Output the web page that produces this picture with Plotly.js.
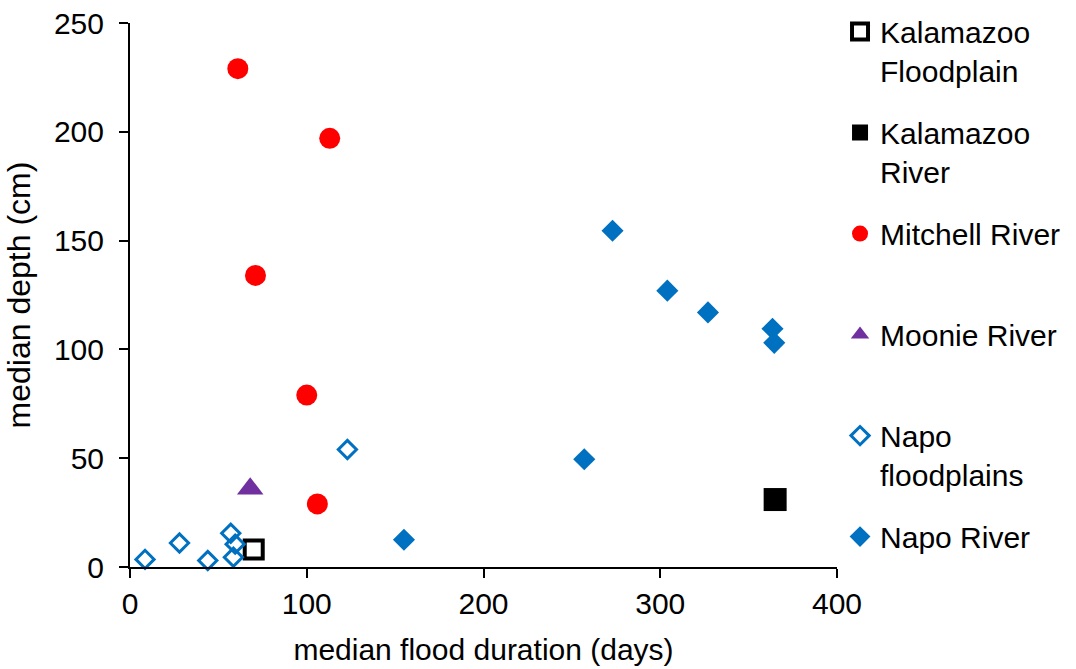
<!DOCTYPE html>
<html>
<head>
<meta charset="utf-8">
<script src="https://cdn.plot.ly/plotly-3.0.1.min.js"></script>
<style>
html,body{margin:0;padding:0;background:#fff;}
#chart{width:1076px;height:669px;}
</style>
</head>
<body>
<div id="chart"></div>
<script>
// Data (x: median flood duration, days; y: median depth, cm)
const kalFloodX = [70];
const kalFloodY = [8];
const kalRiverX = [365];
const kalRiverY = [31];
const mitchellX = [61, 113, 71, 100, 106];
const mitchellY = [229, 197, 134, 79, 29];
const moonieX = [68];
const moonieY = [36];
const napoFloodX = [8.5, 28, 44, 57, 59.5, 58.5, 123];
const napoFloodY = [3.5, 11, 3, 15.5, 10.5, 4.5, 54];
const napoRiverX = [273, 304, 327, 363.5, 364.5, 257, 155];
const napoRiverY = [154.5, 127, 117, 109.5, 103, 49.5, 12.5];

const seriesNames = ["Kalamazoo<br>Floodplain", "Kalamazoo<br>River", "Mitchell River<br>&nbsp;", "Moonie River<br>&nbsp;", "Napo<br>floodplains", "Napo River<br>&nbsp;"];
const xTickVals = [0, 100, 200, 300, 400];
const yTickVals = [0, 50, 100, 150, 200, 250];

const FONT = "Liberation Sans, Arial, sans-serif";
const FS = 30;

function tr(name, x, y, marker, group) {
  return {type: "scatter", mode: "markers", name: name, x: x, y: y,
          marker: marker, cliponaxis: false, legendgroup: group, hoverinfo: "x+y"};
}

const traces = [
  tr(seriesNames[0], kalFloodX, kalFloodY, {symbol: "square-open", size: 18, color: "#000000", line: {width: 4, color: "#000000"}}, "g1"),
  tr(seriesNames[1], kalRiverX, kalRiverY, {symbol: "square", size: 23, color: "#000000"}, "g2"),
  tr(seriesNames[2], mitchellX, mitchellY, {symbol: "circle", size: 21, color: "#FF0000"}, "g3"),
  tr(seriesNames[3], moonieX, moonieY, {symbol: "triangle-up", size: 23, color: "#7030A0"}, "g4"),
  tr(seriesNames[4], napoFloodX, napoFloodY, {symbol: "diamond-open", size: 14, color: "#0070C0", line: {width: 3, color: "#0070C0"}}, "g5"),
  tr(seriesNames[5], napoRiverX, napoRiverY, {symbol: "diamond", size: 17, color: "#0070C0"}, "g6")
];

const axisCommon = {
  showgrid: false, zeroline: false, showline: true, linecolor: "#000000", linewidth: 2,
  ticks: "outside", ticklen: 9, tickwidth: 2, tickcolor: "#000000",
  tickfont: {family: FONT, size: FS, color: "#000000"}
};

const layout = {
  width: 1076, height: 669,
  paper_bgcolor: "#ffffff", plot_bgcolor: "#ffffff",
  margin: {l: 130, r: 239, t: 23, b: 102},
  font: {family: FONT, size: FS, color: "#000000"},
  showlegend: true,
  legend: {
    xref: "container", yref: "container",
    x: 0.7807, xanchor: "left", y: 0.9916, yanchor: "top",
    font: {family: FONT, size: FS, color: "#000000"},
    valign: "top", traceorder: "grouped", tracegroupgap: 20,
    itemwidth: 30, bgcolor: "rgba(0,0,0,0)", maxheight: 1
  },
  xaxis: Object.assign({}, axisCommon, {
    range: [0, 400], tickvals: xTickVals, ticktext: xTickVals.map(String),
    title: {text: "median flood duration (days)", font: {family: FONT, size: FS, color: "#000000"}, standoff: 20}
  }),
  yaxis: Object.assign({}, axisCommon, {
    range: [0, 250], tickvals: yTickVals, ticktext: yTickVals.map(String),
    ticklabelstandoff: 9,
    title: {text: "median depth (cm)", font: {family: FONT, size: 32, color: "#000000"}, standoff: 14}
  })
};

Plotly.newPlot("chart", traces, layout, {displayModeBar: false, staticPlot: true});
</script>
</body>
</html>
